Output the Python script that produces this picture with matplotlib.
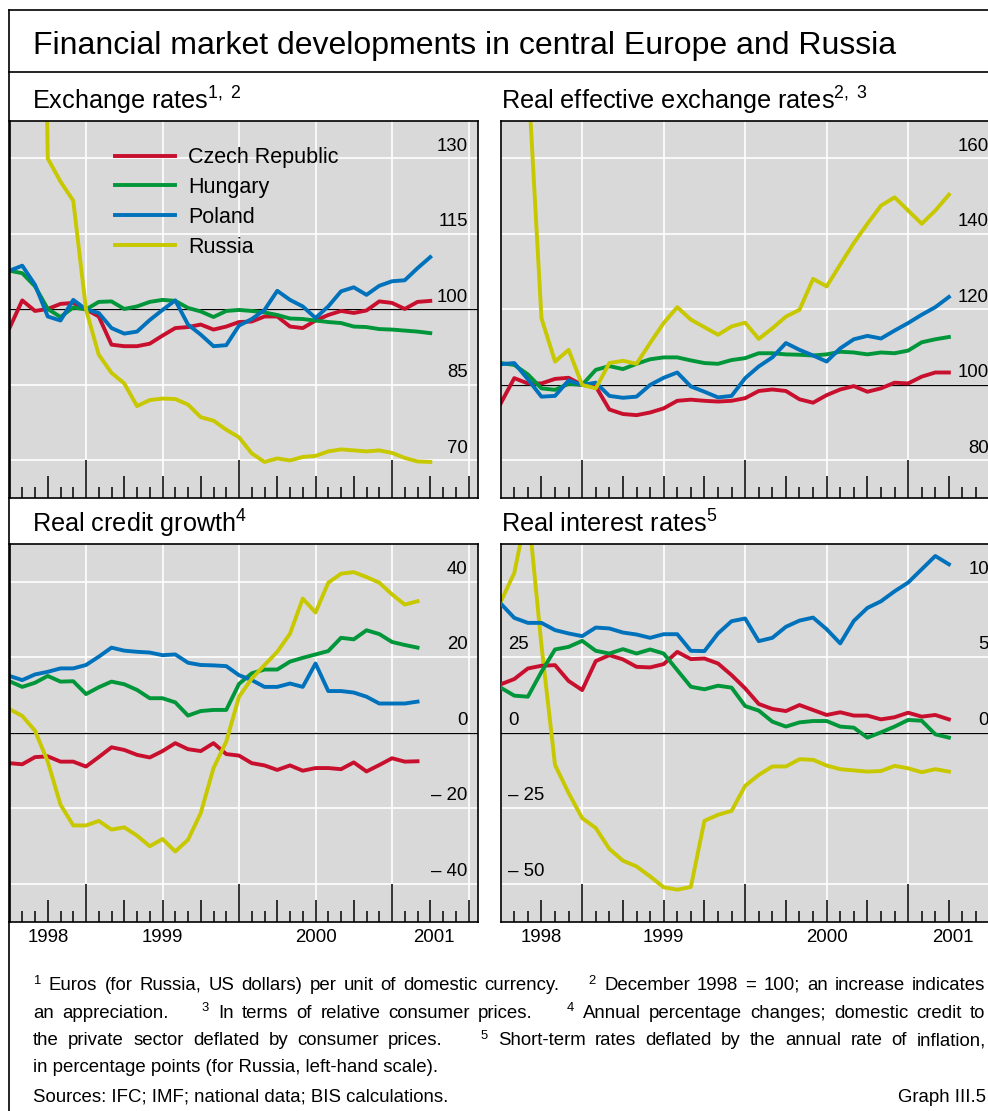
import matplotlib
matplotlib.use("Agg")
import matplotlib.pyplot as plt
from matplotlib import transforms
from matplotlib.lines import Line2D

plt.rcParams["font.family"] = ["Liberation Sans", "DejaVu Sans"]
plt.rcParams["mathtext.fontset"] = "custom"
plt.rcParams["mathtext.rm"] = "Liberation Sans"
plt.rcParams["mathtext.it"] = "Liberation Sans:italic"
plt.rcParams["mathtext.bf"] = "Liberation Sans:bold"

# ── data: monthly, month index relative to December 1998 (= 0) ─────────────────
MONTHS = list(range(-6, 28))          # June 1998 .. March 2001
MONTHS_CREDIT = list(range(-6, 27))   # credit series ends February 2001

COUNTRIES = ["Czech Republic", "Hungary", "Poland", "Russia"]
COLORS = ["#c8102e", "#009639", "#0072bc", "#c8c800"]

# exchange rates, December 1998 = 100
czech_er = [96.3, 101.8, 99.7, 100.1, 101.1, 101.3, 100.0, 98.6, 93.0, 92.7, 92.7, 93.2,
            94.8, 96.3, 96.5, 97.0, 96.0, 96.6, 97.5, 97.6, 98.6, 98.6, 96.6, 96.3,
            97.8, 98.9, 99.7, 99.3, 99.8, 101.6, 101.3, 100.1, 101.5, 101.7]
hungary_er = [107.7, 107.2, 104.6, 100.1, 98.5, 100.4, 100.0, 101.5, 101.6, 100.1, 100.6, 101.5,
              101.9, 101.7, 100.3, 99.6, 98.5, 99.7, 99.9, 99.7, 99.4, 98.9, 98.2, 98.1,
              97.8, 97.5, 97.3, 96.6, 96.5, 96.1, 96.0, 95.8, 95.6, 95.3]
poland_er = [107.7, 108.7, 104.9, 98.6, 97.8, 101.9, 100.0, 99.3, 96.3, 95.2, 95.6, 97.9,
             99.9, 101.8, 97.0, 95.0, 92.7, 92.9, 96.8, 98.1, 99.9, 103.7, 101.9, 100.6,
             98.3, 100.6, 103.6, 104.4, 102.9, 104.7, 105.6, 105.8, 108.2, 110.4]
russia_er = [332.0, 331.0, 288.0, 130.0, 125.4, 121.6, 100.0, 91.0, 87.4, 85.3, 80.8, 82.0,
             82.3, 82.2, 81.1, 78.6, 77.9, 76.1, 74.6, 71.4, 69.7, 70.4, 70.0, 70.7,
             70.9, 71.8, 72.2, 72.0, 71.8, 72.0, 71.5, 70.5, 69.8, 69.7]

# real effective exchange rates, December 1998 = 100
czech_reer = [95.1, 101.8, 100.4, 100.4, 101.6, 101.9, 100.0, 99.6, 93.5, 92.3, 92.0, 92.7,
              93.8, 95.8, 96.1, 95.8, 95.6, 95.8, 96.5, 98.4, 98.8, 98.4, 96.2, 95.3,
              97.3, 98.8, 99.7, 98.2, 99.1, 100.6, 100.4, 102.2, 103.3, 103.3]
hungary_reer = [105.8, 105.3, 102.8, 99.1, 98.7, 100.3, 100.0, 104.0, 105.0, 104.2, 105.6, 106.8,
                107.3, 107.3, 106.5, 105.8, 105.6, 106.6, 107.1, 108.4, 108.4, 108.1, 108.0, 107.8,
                108.1, 108.8, 108.6, 108.1, 108.6, 108.4, 109.1, 111.3, 112.1, 112.7]
poland_reer = [105.5, 105.8, 101.5, 96.9, 97.1, 101.2, 100.0, 100.6, 97.1, 96.6, 96.9, 100.0,
               101.9, 103.3, 99.6, 98.2, 96.7, 97.1, 101.8, 104.9, 107.3, 111.1, 109.3, 107.8,
               106.2, 109.7, 112.1, 113.0, 112.3, 114.4, 116.4, 118.6, 120.6, 123.3]
russia_reer = [190.0, 189.0, 183.0, 117.7, 106.2, 109.3, 100.0, 99.1, 105.8, 106.4, 105.6, 111.1,
               116.4, 120.6, 117.3, 115.3, 113.3, 115.5, 116.5, 112.2, 115.0, 118.1, 119.9, 128.1,
               126.1, 131.9, 137.6, 142.7, 147.5, 149.7, 146.2, 142.7, 146.2, 150.4]

# real credit growth, annual % change
czech_cr = [-8.0, -8.3, -6.4, -6.2, -7.6, -7.6, -8.9, -6.4, -3.8, -4.5, -5.8, -6.5,
            -4.8, -2.7, -4.3, -4.8, -2.7, -5.6, -6.0, -8.0, -8.6, -9.8, -8.6, -10.0,
            -9.3, -9.3, -9.6, -7.8, -10.2, -8.5, -6.7, -7.6, -7.5]
hungary_cr = [13.7, 12.2, 13.3, 15.1, 13.6, 13.7, 10.3, 12.1, 13.6, 12.9, 11.4, 9.2,
              9.2, 8.1, 4.6, 5.8, 6.1, 6.1, 13.0, 15.8, 16.8, 16.8, 18.9, 19.9,
              20.8, 21.7, 25.2, 24.8, 27.2, 26.2, 24.1, 23.3, 22.6]
poland_cr = [15.1, 14.0, 15.5, 16.2, 17.1, 17.1, 18.0, 20.2, 22.6, 21.8, 21.5, 21.3,
             20.6, 20.8, 18.6, 18.0, 17.9, 17.7, 15.3, 14.0, 12.2, 12.2, 13.1, 12.2,
             18.4, 11.1, 11.1, 10.7, 9.6, 7.8, 7.8, 7.8, 8.3]
russia_cr = [6.3, 4.5, 0.6, -7.6, -19.0, -24.5, -24.5, -23.3, -25.6, -25.0, -27.2, -30.0,
             -28.1, -31.4, -28.3, -21.2, -9.3, -2.3, 9.6, 14.4, 18.0, 21.5, 26.3, 35.6,
             31.9, 39.8, 42.2, 42.6, 41.3, 39.8, 36.7, 34.0, 34.9]

# real interest rates, percentage points (Russia on left-hand scale)
czech_ri = [3.22, 3.57, 4.27, 4.45, 4.49, 3.44, 2.84, 4.76, 5.15, 4.87, 4.38, 4.34,
            4.56, 5.37, 4.89, 4.93, 4.60, 3.83, 2.95, 1.92, 1.59, 1.45, 1.85, 1.52,
            1.19, 1.37, 1.15, 1.15, 0.90, 1.04, 1.34, 1.08, 1.19, 0.90]
hungary_ri = [3.00, 2.47, 2.40, 4.05, 5.53, 5.70, 6.10, 5.44, 5.26, 5.55, 5.26, 5.53,
              5.26, 4.16, 3.06, 2.89, 3.13, 3.00, 1.78, 1.48, 0.75, 0.42, 0.70, 0.79,
              0.79, 0.42, 0.35, -0.31, 0.04, 0.42, 0.86, 0.81, -0.09, -0.31]
poland_ri = [8.57, 7.62, 7.29, 7.29, 6.81, 6.59, 6.41, 6.98, 6.92, 6.65, 6.52, 6.30,
             6.54, 6.54, 5.44, 5.42, 6.59, 7.40, 7.58, 6.08, 6.30, 7.03, 7.44, 7.64,
             6.87, 5.93, 7.42, 8.28, 8.72, 9.38, 9.96, 10.84, 11.72, 11.17]
russia_ri = [43.4, 53.0, 75.0, 29.0, -10.6, -19.9, -28.2, -31.5, -38.4, -42.3, -44.2, -47.5,
             -51.1, -51.9, -51.0, -29.1, -27.1, -25.8, -17.5, -13.9, -11.1, -11.1, -8.7, -8.9,
             -10.8, -12.0, -12.4, -12.8, -12.6, -10.9, -11.7, -13.0, -12.0, -12.8]

YEARS = ["1998", "1999", "2000", "2001"]
YEAR_POS = [-3, 6, 18, 27.3]          # centred on the visible part of each year

# "|" marks the wide gap between two footnotes; lines 1-3 are justified
FOOTNOTES = [
    "$^{1}$ Euros (for Russia, US dollars) per unit of domestic currency."
    "|$^{2}$ December 1998 = 100; an increase indicates",
    "an appreciation.|$^{3}$ In terms of relative consumer prices."
    "|$^{4}$ Annual percentage changes; domestic credit to",
    "the private sector deflated by consumer prices."
    "|$^{5}$ Short-term rates deflated by the annual rate of inflation,",
    "in percentage points (for Russia, left-hand scale).",
]

# ── layout (pixels of the 988 x 1111 canvas) ───────────────────────────────────
W, H = 988, 1111
BG = "#d9d9d9"
X_LO, X_HI = -6, 30.72
GRID_X = list(range(-6, 31, 6))
TICK_M = list(range(-5, 31))
AX_H = 377.5
LW = 2.8
LBL_FS = 13.4
NOTE_FS = 13.4

fig = plt.figure(figsize=(W / 100, H / 100), dpi=100)
renderer = fig.canvas.get_renderer()


def fx(px):
    return px / W


def fy(py):
    return 1 - py / H


def make_panel(x0, top, width, ylim, grid_vals, ref):
    ax = fig.add_axes([fx(x0), fy(top + AX_H), width / W, AX_H / H])
    ax.set_facecolor(BG)
    ax.set_xlim(X_LO, X_HI)
    ax.set_ylim(*ylim)
    ax.set_xticks(GRID_X)
    ax.set_yticks(grid_vals)
    ax.tick_params(length=0, labelbottom=False, labelleft=False)
    ax.set_axisbelow(True)
    ax.grid(True, color="white", lw=1.2)
    ax.axhline(ref, color="black", lw=0.9, zorder=1.5)
    for sp in ax.spines.values():
        sp.set_linewidth(1.2)
    heights = [0.1 if m % 12 == 0 else (0.058 if m % 3 == 0 else 0.029) for m in TICK_M]
    ax.vlines(TICK_M, 0, heights, transform=ax.get_xaxis_transform(),
              color="black", lw=1.1, zorder=1.6)
    return ax


def y_labels(ax, vals, texts, xfrac, ha, dy=5.5):
    base = transforms.blended_transform_factory(ax.transAxes, ax.transData)
    tr = transforms.offset_copy(base, fig=fig, y=dy, units="points")
    for v, t in zip(vals, texts):
        ax.text(xfrac, v, t, transform=tr, ha=ha, va="baseline", fontsize=LBL_FS)


def year_labels(ax):
    for pos, yr in zip(YEAR_POS, YEARS):
        ax.text(pos, -0.053, yr, transform=ax.get_xaxis_transform(),
                ha="center", va="baseline", fontsize=LBL_FS)


def dash(v):
    return f"\u2013 {abs(v)}" if v < 0 else f"{v}"


def justified(line, y, x0=33.0, x1=985.5):
    # word-by-word placement so the line runs flush to both margins
    words = []
    for chunk in line.split("|"):
        for wi, w in enumerate(chunk.split(" ")):
            weight = 0 if not words else (4 if wi == 0 else 1)
            words.append((w, weight))
    texts = [fig.text(0, fy(y), w, fontsize=NOTE_FS, va="baseline") for w, _ in words]
    widths = [t.get_window_extent(renderer).width for t in texts]
    unit = (x1 - x0 - sum(widths)) / sum(wt for _, wt in words)
    x = x0
    for t, (_, wt), wd in zip(texts, words, widths):
        x += wt * unit
        t.set_x(fx(x))
        x += wd


LEFT_X, LEFT_W = 9.5, 468.2
RIGHT_X, RIGHT_W = 500.7, 498.7
TOP_Y, BOT_Y = 120.7, 544.2

# ── top left: exchange rates ───────────────────────────────────────────────────
ax1 = make_panel(LEFT_X, TOP_Y, LEFT_W, (62.5, 137.5), [70, 85, 100, 115, 130], 100)
handles = []
for vals, name, col in zip([czech_er, hungary_er, poland_er, russia_er], COUNTRIES, COLORS):
    h, = ax1.plot(MONTHS, vals, color=col, lw=LW, label=name, zorder=2)
    handles.append(h)
y_labels(ax1, [70, 85, 100, 115, 130], ["70", "85", "100", "115", "130"], 0.979, "right")
ax1.legend(handles=handles, loc="upper left", bbox_to_anchor=(0.225, 0.93),
           frameon=False, fontsize=15.5, handlelength=2.8, handletextpad=0.6,
           labelspacing=0.41, borderpad=0, borderaxespad=0)

# ── top right: real effective exchange rates ───────────────────────────────────
ax2 = make_panel(RIGHT_X, TOP_Y, RIGHT_W, (70, 170), [80, 100, 120, 140, 160], 100)
for vals, col in zip([czech_reer, hungary_reer, poland_reer, russia_reer], COLORS):
    ax2.plot(MONTHS, vals, color=col, lw=LW, zorder=2)
y_labels(ax2, [80, 100, 120, 140, 160], ["80", "100", "120", "140", "160"], 0.979, "right")

# ── bottom left: real credit growth ────────────────────────────────────────────
ax3 = make_panel(LEFT_X, BOT_Y, LEFT_W, (-50, 50), [-40, -20, 0, 20, 40], 0)
for vals, col in zip([czech_cr, hungary_cr, poland_cr, russia_cr], COLORS):
    ax3.plot(MONTHS_CREDIT, vals, color=col, lw=LW, zorder=2)
y_labels(ax3, [-40, -20, 0, 20, 40], [dash(v) for v in [-40, -20, 0, 20, 40]],
         0.979, "right", dy=6)
year_labels(ax3)

# ── bottom right: real interest rates (Russia left scale, others right) ────────
ax4 = make_panel(RIGHT_X, BOT_Y, RIGHT_W, (-62.5, 62.5), [-50, -25, 0, 25, 50], 0)
ax4.plot(MONTHS, russia_ri, color=COLORS[3], lw=LW, zorder=2)
ax4r = ax4.twinx()
ax4r.set_ylim(-12.5, 12.5)
ax4r.set_yticks([])
ax4r.patch.set_visible(False)
for sp in ax4r.spines.values():
    sp.set_visible(False)
for vals, col in zip([czech_ri, hungary_ri, poland_ri], COLORS[:3]):
    ax4r.plot(MONTHS, vals, color=col, lw=LW, zorder=2)
y_labels(ax4, [-50, -25, 0, 25], [dash(v) for v in [-50, -25, 0, 25]], 0.0146, "left", dy=6)
y_labels(ax4r, [0, 5, 10], ["0", "5", "10"], 0.979, "right", dy=6)
year_labels(ax4)

# ── titles, frame and notes ────────────────────────────────────────────────────
fig.text(fx(33), fy(54), "Financial market developments in central Europe and Russia",
         fontsize=23.0, va="baseline")
fig.text(fx(32.3), fy(109.3), r"Exchange rates$^{1,\ 2}$", fontsize=18.2, va="baseline")
fig.text(fx(501.3), fy(109.3), r"Real effective exchange rates$^{2,\ 3}$", fontsize=18.2,
         va="baseline")
fig.text(fx(32.3), fy(532.7), r"Real credit growth$^{4}$", fontsize=18.2, va="baseline")
fig.text(fx(501.3), fy(532.7), r"Real interest rates$^{5}$", fontsize=18.2, va="baseline")

for yy in (10, 72):
    fig.add_artist(Line2D([fx(9), 1], [fy(yy), fy(yy)], color="black", lw=1.2))
fig.add_artist(Line2D([fx(9), fx(9)], [fy(10), 0], color="black", lw=1.2))

for k, line in enumerate(FOOTNOTES[:3]):
    justified(line, 990 + 27.5 * k)
fig.text(fx(33), fy(990 + 27.5 * 3), FOOTNOTES[3], fontsize=NOTE_FS, va="baseline")
fig.text(fx(33), fy(1102), "Sources: IFC; IMF; national data; BIS calculations.",
         fontsize=NOTE_FS, va="baseline")
fig.text(fx(985.5), fy(1102), "Graph III.5", fontsize=NOTE_FS, va="baseline", ha="right")

fig.savefig("out.png", dpi=100)
